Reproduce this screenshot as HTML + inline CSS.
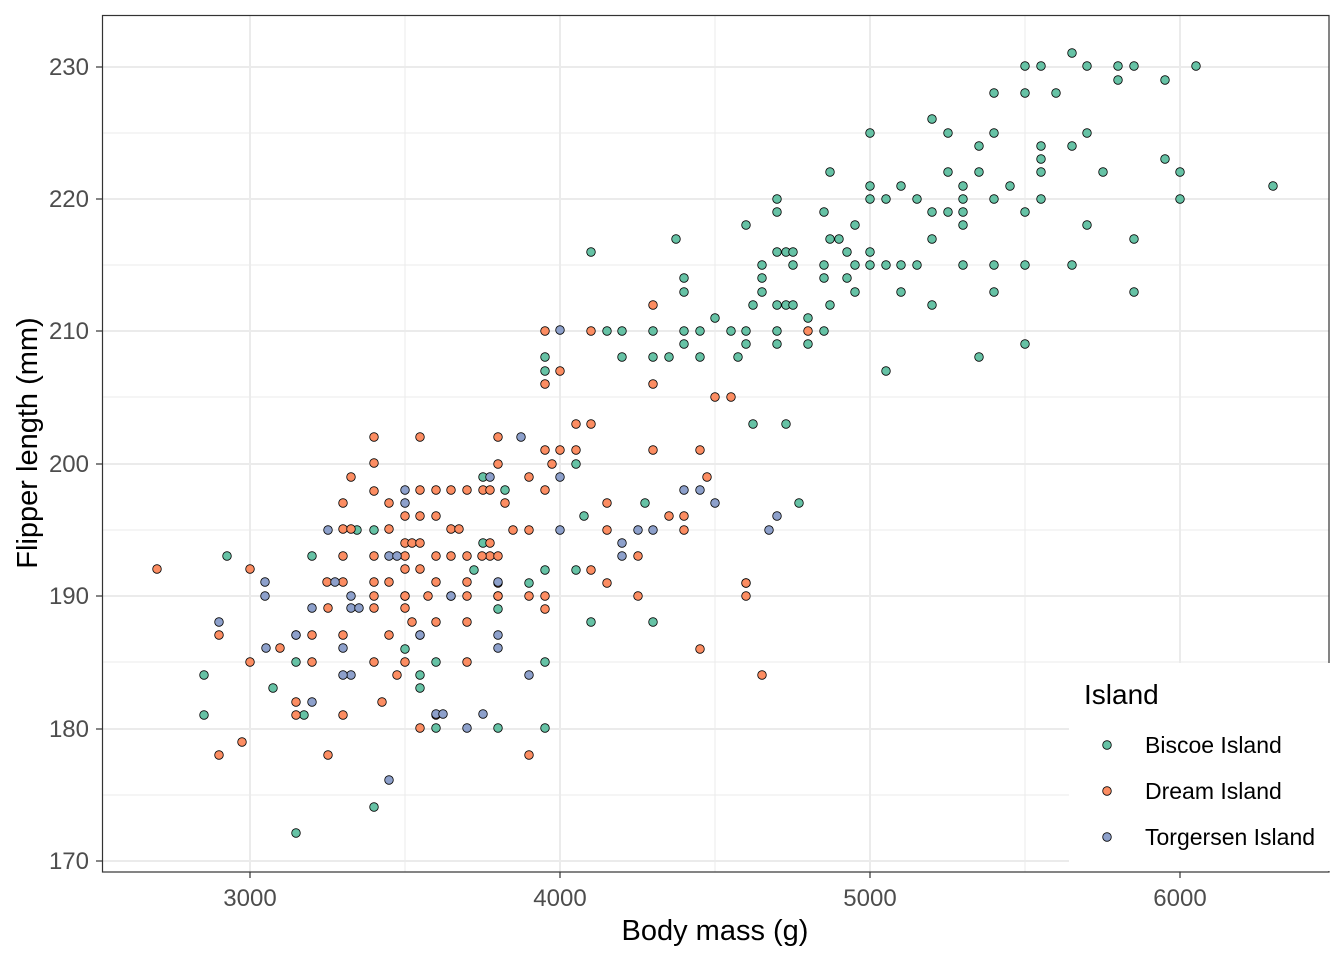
<!DOCTYPE html>
<html><head><meta charset="utf-8"><style>
html,body{margin:0;padding:0;background:#fff;}
svg{display:block;font-family:"Liberation Sans",sans-serif;}
</style></head><body>
<svg id="s" width="1344" height="960" xmlns="http://www.w3.org/2000/svg">
<rect x="0" y="0" width="1344" height="960" fill="#fff"/>
<g stroke="#ebebeb" stroke-width="1">
<line x1="102" x2="1329" y1="133" y2="133"/><line x1="102" x2="1329" y1="265" y2="265"/><line x1="102" x2="1329" y1="397" y2="397"/><line x1="102" x2="1329" y1="530" y2="530"/><line x1="102" x2="1329" y1="662" y2="662"/><line x1="102" x2="1329" y1="795" y2="795"/>
<line y1="15" y2="872" x1="405" x2="405"/><line y1="15" y2="872" x1="715" x2="715"/><line y1="15" y2="872" x1="1025" x2="1025"/>
</g>
<g stroke="#ebebeb" stroke-width="2">
<line x1="102" x2="1329" y1="67" y2="67"/><line x1="102" x2="1329" y1="199" y2="199"/><line x1="102" x2="1329" y1="331" y2="331"/><line x1="102" x2="1329" y1="464" y2="464"/><line x1="102" x2="1329" y1="596" y2="596"/><line x1="102" x2="1329" y1="729" y2="729"/><line x1="102" x2="1329" y1="861" y2="861"/>
<line y1="15" y2="872" x1="250" x2="250"/><line y1="15" y2="872" x1="560" x2="560"/><line y1="15" y2="872" x1="870" x2="870"/><line y1="15" y2="872" x1="1180" x2="1180"/>
</g>
<g id="pts"></g>
<rect x="102.5" y="15.5" width="1226.5" height="856.5" fill="none" stroke="#333" stroke-width="1.2"/>
<rect x="1069" y="663" width="275" height="208" fill="#fff"/>
<g stroke="#333" stroke-width="1.2">
<line x1="96" x2="102" y1="67" y2="67"/><line x1="96" x2="102" y1="199" y2="199"/><line x1="96" x2="102" y1="331" y2="331"/><line x1="96" x2="102" y1="464" y2="464"/><line x1="96" x2="102" y1="596" y2="596"/><line x1="96" x2="102" y1="729" y2="729"/><line x1="96" x2="102" y1="861" y2="861"/>
<line y1="872" y2="878" x1="250" x2="250"/><line y1="872" y2="878" x1="560" x2="560"/><line y1="872" y2="878" x1="870" x2="870"/><line y1="872" y2="878" x1="1180" x2="1180"/>
</g>
<g fill="#4d4d4d" font-size="24" text-anchor="end">
<text x="89" y="75">230</text><text x="89" y="207">220</text><text x="89" y="339">210</text><text x="89" y="472">200</text><text x="89" y="604">190</text><text x="89" y="737">180</text><text x="89" y="869">170</text>
</g>
<g fill="#4d4d4d" font-size="24" text-anchor="middle">
<text x="250" y="906">3000</text><text x="560" y="906">4000</text><text x="870" y="906">5000</text><text x="1180" y="906">6000</text>
</g>
<text x="715" y="940" font-size="29" text-anchor="middle" fill="#000">Body mass (g)</text>
<text transform="translate(37,443) rotate(-90)" font-size="29" text-anchor="middle" fill="#000">Flipper length (mm)</text>
<text x="1084" y="704" font-size="28" fill="#000">Island</text>
<g stroke="#000" stroke-width="0.8">
<circle cx="1107" cy="745" r="4.3" fill="#66c2a5"/><circle cx="1107" cy="791" r="4.3" fill="#fc8d62"/><circle cx="1107" cy="837" r="4.3" fill="#8da0cb"/>
</g>
<g font-size="23" fill="#000">
<text x="1145" y="753">Biscoe Island</text><text x="1145" y="799">Dream Island</text><text x="1145" y="845">Torgersen Island</text>
</g>
</svg>
<script>
var G=[[1072,53],[1025,66],[1041,66],[1087,66],[1118,66],[1134,66],[1196,66],[1165,80],[1118,80],[1056,93],[994,93],[1025,93],[932,119],[870,133],[948,133],[994,133],[1087,133],[979,146],[1041,146],[1072,146],[1041,159],[1041,172],[1165,159],[830,172],[948,172],[979,172],[1103,172],[1180,172],[901,186],[870,186],[963,186],[1010,186],[1273,186],[917,199],[870,199],[886,199],[963,199],[994,199],[1041,199],[1180,199],[777,199],[932,212],[948,212],[963,212],[1025,212],[777,212],[824,212],[855,225],[1087,225],[963,225],[746,225],[676,239],[830,239],[839,239],[932,239],[1134,239],[847,252],[777,252],[786,252],[793,252],[870,252],[824,265],[793,265],[855,265],[870,265],[886,265],[901,265],[917,265],[963,265],[994,265],[1025,265],[1072,265],[762,265],[591,252],[684,278],[762,278],[824,278],[847,278],[684,292],[762,292],[855,292],[901,292],[994,292],[1134,292],[777,305],[786,305],[793,305],[753,305],[932,305],[830,305],[808,318],[715,318],[607,331],[622,331],[653,331],[684,331],[700,331],[731,331],[746,331],[777,331],[824,331],[684,344],[746,344],[777,344],[808,344],[1025,344],[545,357],[622,357],[653,357],[669,357],[700,357],[738,357],[979,357],[886,371],[545,371],[753,424],[786,424],[576,464],[505,490],[483,477],[799,503],[645,503],[584,516],[576,570],[545,570],[474,570],[357,530],[312,556],[227,556],[483,543],[746,583],[529,583],[498,609],[591,622],[653,622],[545,662],[436,662],[405,649],[420,675],[296,662],[204,675],[420,688],[273,688],[204,715],[304,715],[436,728],[498,728],[545,728],[374,807],[296,833],[374,530],[498,596],[405,596]];
var D=[[157,569],[250,569],[219,635],[250,662],[219,755],[242,742],[296,702],[280,648],[328,755],[343,715],[312,662],[343,635],[328,608],[343,582],[327,582],[343,529],[351,529],[343,503],[351,477],[374,437],[374,463],[374,556],[374,582],[374,596],[389,582],[405,596],[389,529],[389,503],[405,543],[405,569],[405,556],[412,543],[420,516],[420,437],[420,543],[420,569],[436,516],[436,556],[436,582],[428,596],[405,608],[420,635],[412,622],[389,635],[374,662],[382,702],[397,675],[420,728],[436,715],[436,622],[451,596],[451,556],[451,529],[459,529],[467,490],[467,582],[467,596],[467,622],[467,662],[483,490],[490,543],[490,556],[498,556],[498,464],[498,437],[490,490],[505,503],[513,530],[529,477],[529,530],[529,596],[529,755],[545,596],[545,609],[545,490],[545,450],[545,384],[545,331],[552,464],[560,450],[560,371],[576,450],[576,424],[591,424],[591,331],[591,570],[607,583],[607,503],[607,530],[638,556],[638,596],[653,384],[653,450],[653,305],[669,516],[684,516],[684,530],[700,450],[700,649],[707,477],[715,397],[731,397],[746,583],[746,596],[762,675],[808,331],[498,583],[498,596],[405,516],[420,490],[436,490],[467,556],[482,556],[451,490],[374,491],[343,556],[312,635],[296,635],[296,715],[405,662],[374,608]];
var T=[[219,622],[265,582],[265,596],[266,648],[296,635],[312,608],[312,702],[328,530],[335,582],[343,648],[351,596],[351,608],[359,608],[351,675],[389,556],[397,556],[405,490],[405,503],[420,635],[436,714],[443,714],[451,596],[467,728],[483,714],[490,477],[498,582],[498,635],[498,648],[521,437],[529,675],[560,330],[560,477],[560,530],[622,543],[622,556],[638,530],[653,530],[684,490],[700,490],[715,503],[769,530],[777,516],[389,780],[343,675]];
var g=document.getElementById('pts'),h='';
[[G,'#66c2a5'],[D,'#fc8d62'],[T,'#8da0cb']].forEach(function(s){s[0].forEach(function(p){h+='<circle cx="'+p[0]+'" cy="'+p[1]+'" r="4.3" fill="'+s[1]+'" stroke="#000" stroke-width="0.8"/>';});});
g.innerHTML=h;
</script>
</body></html>
